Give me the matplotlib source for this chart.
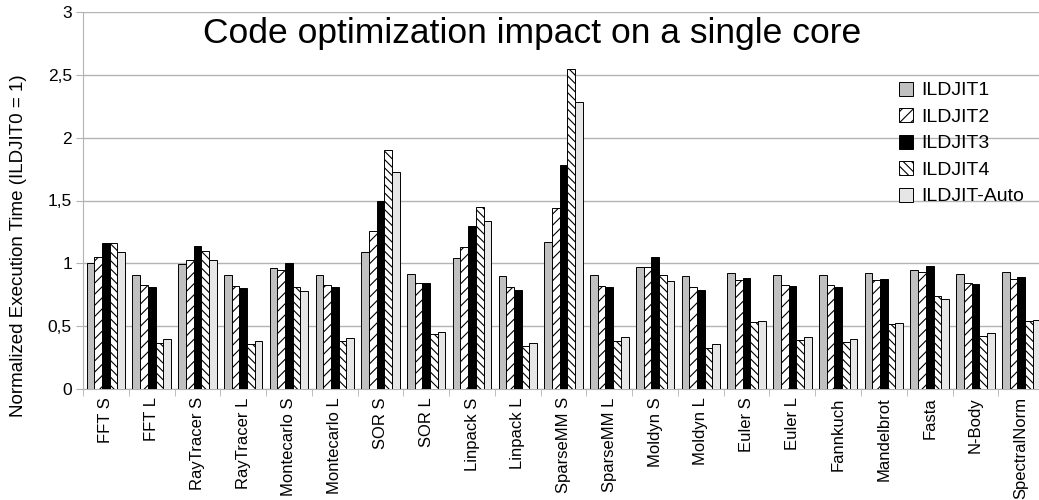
import numpy as np
import matplotlib
matplotlib.use("Agg")
import matplotlib.pyplot as plt
from matplotlib.ticker import FixedLocator, FuncFormatter

plt.rcParams['font.family'] = ['Liberation Sans', 'DejaVu Sans']
plt.rcParams['hatch.linewidth'] = 0.8

benchmarks = ["FFT S", "FFT L", "RayTracer S", "RayTracer L", "Montecarlo S",
              "Montecarlo L", "SOR S", "SOR L", "Linpack S", "Linpack L",
              "SparseMM S", "SparseMM L", "Moldyn S", "Moldyn L", "Euler S",
              "Euler L", "Fannkuch", "Mandelbrot", "Fasta", "N-Body", "SpectralNorm"]

ildjit1 = [1.00, 0.905, 0.995, 0.905, 0.96, 0.91, 1.09, 0.915, 1.04, 0.90, 1.17,
           0.91, 0.97, 0.90, 0.925, 0.91, 0.91, 0.925, 0.95, 0.915, 0.93]
ildjit2 = [1.05, 0.825, 1.03, 0.82, 0.945, 0.825, 1.26, 0.84, 1.13, 0.81, 1.44,
           0.82, 0.97, 0.81, 0.87, 0.83, 0.83, 0.865, 0.93, 0.84, 0.875]
ildjit3 = [1.165, 0.81, 1.14, 0.80, 1.005, 0.815, 1.495, 0.84, 1.30, 0.79, 1.78,
           0.81, 1.05, 0.79, 0.885, 0.82, 0.81, 0.875, 0.975, 0.835, 0.89]
ildjit4 = [1.165, 0.37, 1.10, 0.355, 0.81, 0.38, 1.90, 0.44, 1.45, 0.34, 2.55,
           0.38, 0.91, 0.33, 0.535, 0.39, 0.375, 0.515, 0.74, 0.42, 0.545]
ildjit_auto = [1.09, 0.395, 1.03, 0.38, 0.78, 0.405, 1.725, 0.45, 1.34, 0.37, 2.28,
               0.41, 0.86, 0.36, 0.545, 0.41, 0.40, 0.525, 0.715, 0.445, 0.55]

series = [("ILDJIT1", ildjit1, "#c0c0c0", ""),
          ("ILDJIT2", ildjit2, "white", "///"),
          ("ILDJIT3", ildjit3, "black", ""),
          ("ILDJIT4", ildjit4, "white", "\\\\\\\\"),
          ("ILDJIT-Auto", ildjit_auto, "#e6e6e6", "")]

fig = plt.figure(figsize=(10.39, 5), dpi=100)
ax = fig.add_axes([0.0799, 0.222, 0.925, 0.754])

x = np.arange(len(benchmarks))
w = 0.168
for i, (name, vals, col, hat) in enumerate(series):
    ax.bar(x + (i - 2) * w, vals, w, color=col, edgecolor="black", linewidth=0.7,
           hatch=hat, label=name, zorder=3)

ax.set_xlim(-0.5, len(benchmarks) - 0.5)
ax.set_ylim(0, 3)
ax.set_yticks(np.arange(0, 3.01, 0.5))
ax.yaxis.set_major_formatter(FuncFormatter(lambda v, p: ("%g" % v).replace(".", ",")))
ax.grid(axis="y", color="#b3b3b3", linewidth=1, zorder=0)

ax.set_xticks(x)
ax.set_xticklabels(benchmarks, rotation=90, fontsize=12)
ax.tick_params(axis="x", which="major", length=0, pad=6)
ax.xaxis.set_minor_locator(FixedLocator(np.arange(-0.5, len(benchmarks), 1)))
ax.tick_params(axis="x", which="minor", length=5, color="#b3b3b3")
ax.tick_params(axis="y", labelsize=12.5, length=5, color="#b3b3b3", pad=3)

for s in ["top", "right"]:
    ax.spines[s].set_visible(False)
for s in ["left", "bottom"]:
    ax.spines[s].set_color("#b3b3b3")

ax.set_ylabel("Normalized Execution Time (ILDJIT0 = 1)", fontsize=13.5)
ax.yaxis.set_label_coords(-0.058, 0.379)

fig.text(0.512, 0.933, "Code optimization impact on a single core", fontsize=25.5,
         ha="center", va="center")

ax.legend(loc="upper left", bbox_to_anchor=(0.849, 0.815), frameon=False, fontsize=14,
          handlelength=0.72, handleheight=0.72, handletextpad=0.45, labelspacing=0.45,
          borderaxespad=0, borderpad=0)

fig.savefig("out.png", dpi=100)
